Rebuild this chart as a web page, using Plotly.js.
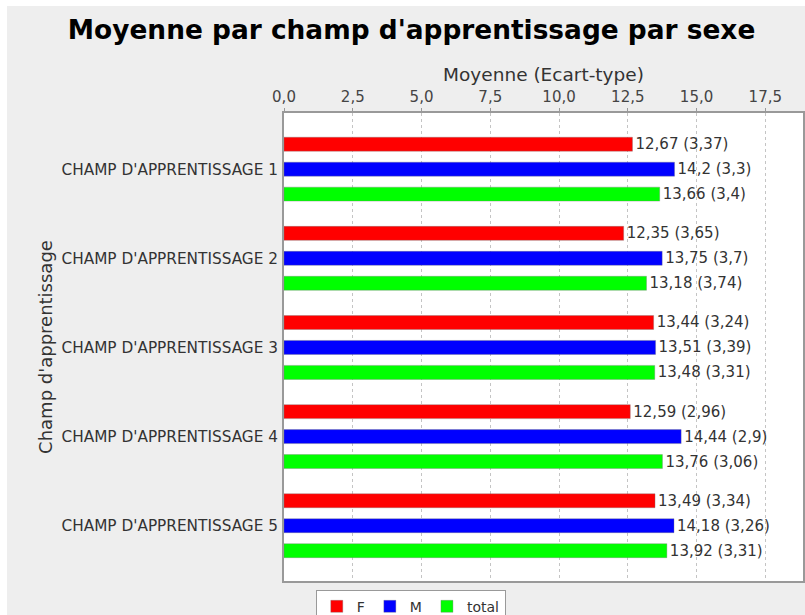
<!DOCTYPE html>
<html>
<head>
<meta charset="utf-8">
<script src="https://cdn.plot.ly/plotly-3.0.1.min.js"></script>
<style>
html, body { margin: 0; padding: 0; background: #ffffff; }
#chart { position: absolute; left: 7px; top: 6px; width: 798px; height: 609px; }
</style>
</head>
<body>
<div id="chart"></div>
<script>
const categories = ["CHAMP D'APPRENTISSAGE 1", "CHAMP D'APPRENTISSAGE 2", "CHAMP D'APPRENTISSAGE 3", "CHAMP D'APPRENTISSAGE 4", "CHAMP D'APPRENTISSAGE 5"];
const seriesNames = ["F", "M", "total"];
const meanF = [12.67, 12.35, 13.44, 12.59, 13.49];
const sdF = [3.37, 3.65, 3.24, 2.96, 3.34];
const meanM = [14.2, 13.75, 13.51, 14.44, 14.18];
const sdM = [3.3, 3.7, 3.39, 2.9, 3.26];
const meanT = [13.66, 13.18, 13.48, 13.76, 13.92];
const sdT = [3.4, 3.74, 3.31, 3.06, 3.31];
const colors = ["#ff0000", "#0000ff", "#00ff00"];

const fmt = v => String(v).replace('.', ',');
const FONT = "DejaVu Sans";

function makeTrace(name, means, sds, color) {
  return {
    type: 'bar',
    orientation: 'h',
    name: name,
    x: means,
    y: categories,
    text: means.map((m, i) => fmt(m) + ' (' + fmt(sds[i]) + ')'),
    textposition: 'outside',
    constraintext: 'none',
    cliponaxis: false,
    textfont: {family: FONT, size: 15, color: '#333333'},
    marker: {color: color, line: {color: 'rgba(120,120,120,0.35)', width: 1}},
    hoverinfo: 'none'
  };
}

const data = [
  makeTrace(seriesNames[0], meanF, sdF, colors[0]),
  makeTrace(seriesNames[1], meanM, sdM, colors[1]),
  makeTrace(seriesNames[2], meanT, sdT, colors[2])
];

const layout = {
  width: 798,
  height: 609,
  paper_bgcolor: '#eeeeee',
  plot_bgcolor: '#ffffff',
  separators: ', ',
  margin: {l: 277, r: 2, t: 107, b: 34, pad: 0},
  font: {family: FONT, color: '#333333'},
  title: {
    text: "Moyenne par champ d'apprentissage par sexe",
    font: {family: FONT, size: 26.4, weight: 'bold', color: '#000000'},
    xref: 'container', x: 0.507, xanchor: 'center',
    yref: 'container', y: 0.9606, yanchor: 'middle'
  },
  barmode: 'group',
  bargap: 0.16,
  bargroupgap: 0.44,
  xaxis: {
    side: 'top',
    range: [0, 18.87],
    tick0: 0,
    dtick: 2.5,
    tickformat: '.1f',
    showgrid: true,
    gridcolor: '#c4c4c4',
    griddash: '3px,3px',
    gridwidth: 1,
    zeroline: false,
    showline: true,
    linecolor: '#999999',
    linewidth: 2,
    mirror: true,
    ticks: 'outside',
    ticklen: 3,
    tickcolor: '#999999',
    tickfont: {family: FONT, size: 15, color: '#444444'},
    title: {text: 'Moyenne (Ecart-type)', font: {family: FONT, size: 18.5, color: '#333333'}, standoff: 2}
  },
  yaxis: {
    type: 'category',
    range: [4.62, -0.63],
    autorange: false,
    showgrid: false,
    zeroline: false,
    showline: true,
    linecolor: '#999999',
    linewidth: 2,
    mirror: true,
    ticks: '',
    ticklabelstandoff: 1,
    tickfont: {family: FONT, size: 15.3, color: '#333333'},
    title: {text: "Champ d'apprentissage", font: {family: FONT, size: 18, color: '#333333'}, standoff: 4}
  },
  showlegend: true,
  legend: {
    orientation: 'h',
    xref: 'container', x: 0.506, xanchor: 'center',
    yref: 'container', y: 0.0415, yanchor: 'top',
    bgcolor: '#ffffff',
    bordercolor: '#999999',
    borderwidth: 1,
    font: {family: FONT, size: 14, color: '#333333'},
    itemwidth: 30,
    traceorder: 'normal'
  }
};

Plotly.newPlot('chart', data, layout, {displayModeBar: false, staticPlot: true});
</script>
</body>
</html>
